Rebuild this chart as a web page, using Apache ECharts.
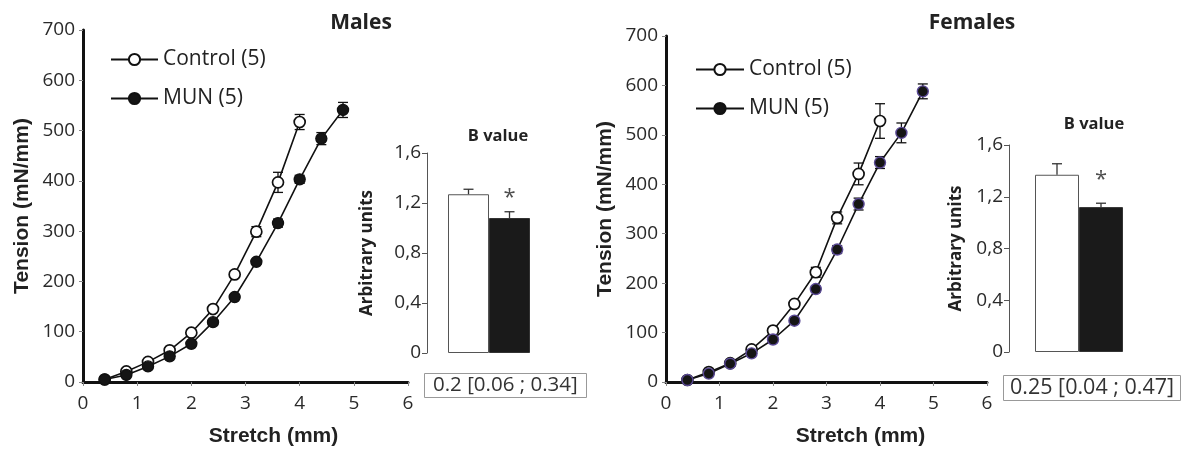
<!DOCTYPE html>
<html>
<head>
<meta charset="utf-8">
<script src="https://cdn.jsdelivr.net/npm/echarts@6/dist/echarts.min.js"></script>
<style>
html, body { margin: 0; padding: 0; background: #fff; }
#main { width: 1183px; height: 452px; }
</style>
</head>
<body>
<div id="main"></div>
<script>
// stretch (mm) for each measured point
var stretchControl = [0.4, 0.8, 1.2, 1.6, 2.0, 2.4, 2.8, 3.2, 3.6, 4.0];
var stretchMun = [0.4, 0.8, 1.2, 1.6, 2.0, 2.4, 2.8, 3.2, 3.6, 4.0, 4.4, 4.8];

// males, tension (mN/mm) and sem
var maleControl = [5, 21, 40, 63, 98, 145, 214, 299, 397, 517];
var maleControlErr = [2, 3, 3, 4, 5, 5, 6, 10, 20, 15];
var maleMun = [5, 14, 31, 51, 76, 119, 169, 239, 316, 403, 484, 541];
var maleMunErr = [2, 2, 3, 3, 4, 4, 5, 5, 8, 8, 12, 15];

// females
var femaleControl = [4, 20, 38, 66, 104, 158, 222, 332, 421, 528];
var femaleControlErr = [2, 3, 3, 4, 5, 6, 10, 12, 22, 35];
var femaleMun = [4, 17, 37, 58, 86, 124, 188, 268, 360, 444, 504, 588];
var femaleMunErr = [2, 2, 3, 3, 4, 4, 6, 8, 12, 12, 20, 15];

// B value bars
var groups = ['Control (5)', 'MUN (5)'];
var maleB = [1.27, 1.08];
var maleBErr = [0.04, 0.05];
var femaleB = [1.37, 1.12];
var femaleBErr = [0.085, 0.03];
var maleStar = [[1, 1.24]];
var femaleStar = [[1, 1.33]];
var bTickLabels = ['0', '0,4', '0,8', '1,2', '1,6'];
var maleCI = '0.2 [0.06 ; 0.34]';
var femaleCI = '0.25 [0.04 ; 0.47]';

var tickFont = 'Open Sans';
var dark = '#111';

function pairs(xs, ys) {
    var out = [];
    for (var i = 0; i < ys.length; i++) out.push([xs[i], ys[i]]);
    return out;
}
function errs(xs, ys, es) {
    var out = [];
    for (var i = 0; i < ys.length; i++) out.push([xs[i], ys[i] - es[i], ys[i] + es[i]]);
    return out;
}
function barErrs(ys, es) {
    var out = [];
    for (var i = 0; i < ys.length; i++) out.push([i, ys[i], ys[i] + es[i]]);
    return out;
}

function errorBarItem(params, api) {
    var x = api.value(0);
    var lo = api.coord([x, api.value(1)]);
    var hi = api.coord([x, api.value(2)]);
    var st = { stroke: dark, lineWidth: 1.3 };
    return {
        type: 'group',
        children: [
            { type: 'line', shape: { x1: hi[0], y1: hi[1], x2: lo[0], y2: lo[1] }, style: st },
            { type: 'line', shape: { x1: hi[0] - 5, y1: hi[1], x2: hi[0] + 5, y2: hi[1] }, style: st },
            { type: 'line', shape: { x1: lo[0] - 5, y1: lo[1], x2: lo[0] + 5, y2: lo[1] }, style: st }
        ]
    };
}
function barErrorItem(params, api) {
    var x = api.value(0);
    var lo = api.coord([x, api.value(1)]);
    var hi = api.coord([x, api.value(2)]);
    var st = { stroke: '#333', lineWidth: 1.3 };
    return {
        type: 'group',
        children: [
            { type: 'line', shape: { x1: hi[0], y1: hi[1], x2: lo[0], y2: lo[1] }, style: st },
            { type: 'line', shape: { x1: hi[0] - 5, y1: hi[1], x2: hi[0] + 5, y2: hi[1] }, style: st }
        ]
    };
}

function lineXAxis(idx, pad) {
    return {
        gridIndex: idx, type: 'value', min: 0, max: 6, interval: 1,
        name: 'Stretch (mm)', nameLocation: 'middle', nameGap: 44,
        nameTextStyle: { fontFamily: 'Liberation Sans', fontWeight: 'bold', fontSize: 21, color: '#222', padding: [0, 0, 0, pad] },
        axisLine: { lineStyle: { color: dark, width: 3 } },
        axisTick: { show: true, length: 4, lineStyle: { color: '#888', width: 1 } },
        axisLabel: { fontFamily: tickFont, fontSize: 19, color: '#2a2a2a', margin: 12 },
        splitLine: { show: false }
    };
}
function lineYAxis(idx) {
    return {
        gridIndex: idx, type: 'value', min: 0, max: 700, interval: 100,
        name: 'Tension (mN/mm)', nameLocation: 'middle', nameGap: 50,
        nameTextStyle: { fontFamily: 'Liberation Sans', fontWeight: 'bold', fontSize: 21, color: '#222' },
        axisLine: { show: true, lineStyle: { color: dark, width: 3 } },
        axisTick: { show: true, length: 4, lineStyle: { color: '#888', width: 1 } },
        axisLabel: { fontFamily: tickFont, fontSize: 19, color: '#2a2a2a', margin: 8 },
        splitLine: { show: false }
    };
}
function barYAxis(idx, off, gap) {
    return {
        gridIndex: idx, type: 'value', min: 0, max: 1.6, interval: 0.4, offset: off,
        name: 'Arbitrary units', nameLocation: 'middle', nameGap: gap,
        nameTextStyle: { fontFamily: tickFont, fontWeight: 'bold', fontSize: 17, color: '#222' },
        axisLine: { show: true, lineStyle: { color: '#555', width: 1 } },
        axisTick: { show: true, length: 5, lineStyle: { color: '#555', width: 1 } },
        axisLabel: {
            fontFamily: tickFont, fontSize: 19, color: '#2a2a2a', margin: 6,
            formatter: function (v) { return bTickLabels[Math.round(v / 0.4)]; }
        },
        splitLine: { show: false }
    };
}
function barXAxis(idx) {
    return { gridIndex: idx, type: 'category', data: groups, show: false };
}

function controlLine(name, xi, data) {
    return {
        name: name, type: 'line', xAxisIndex: xi, yAxisIndex: xi, data: data, z: 3,
        symbol: 'circle', symbolSize: 11,
        lineStyle: { color: dark, width: 1.6 },
        itemStyle: { color: '#fff', borderColor: dark, borderWidth: 1.7 }
    };
}
function munLine(name, xi, data, border) {
    return {
        name: name, type: 'line', xAxisIndex: xi, yAxisIndex: xi, data: data, z: 3,
        symbol: 'circle', symbolSize: 11,
        lineStyle: { color: dark, width: 1.6 },
        itemStyle: { color: '#151515', borderColor: border, borderWidth: 1.4 }
    };
}
function errSeries(xi, data) {
    return { type: 'custom', xAxisIndex: xi, yAxisIndex: xi, data: data, renderItem: errorBarItem, z: 2, silent: true };
}
function bValueSeries(xi, values, width) {
    return {
        type: 'bar', xAxisIndex: xi, yAxisIndex: xi, barWidth: width,
        data: [
            { value: values[0], itemStyle: { color: '#fff', borderColor: '#555', borderWidth: 1 } },
            { value: values[1], itemStyle: { color: '#1a1a1a', borderColor: '#333', borderWidth: 1 } }
        ]
    };
}
function starSeries(xi, data) {
    return {
        type: 'scatter', xAxisIndex: xi, yAxisIndex: xi, data: data, z: 5,
        symbol: 'circle', symbolSize: 2, itemStyle: { color: 'rgba(0,0,0,0)' },
        label: { show: true, position: 'inside', formatter: '*', fontFamily: tickFont, fontSize: 22, color: '#222' }
    };
}

var boxStyle = { fontFamily: tickFont, fontSize: 20.5, color: '#333', fontWeight: 'normal' };
var headStyle = { fontFamily: tickFont, fontSize: 21, color: '#222', fontWeight: 'bold' };
var bStyle = { fontFamily: tickFont, fontSize: 16.5, color: '#222', fontWeight: 'bold' };
var legendText = { fontFamily: tickFont, fontSize: 21, color: '#222' };

var option = {
    animation: false,
    title: [
        { text: 'Males', left: 356, top: 8, textAlign: 'center', textStyle: headStyle },
        { text: 'Females', left: 967, top: 8, textAlign: 'center', textStyle: headStyle },
        { text: 'B value', left: 493, top: 123, textAlign: 'center', textStyle: bStyle },
        { text: 'B value', left: 1089, top: 111, textAlign: 'center', textStyle: bStyle },
        { text: maleCI, left: 424, top: 373, padding: [2, 9], borderColor: '#999', borderWidth: 1, textStyle: boxStyle },
        { text: femaleCI, left: 1003, top: 375, padding: [2, 7], borderColor: '#999', borderWidth: 1,
          textStyle: { fontFamily: tickFont, fontSize: 21.5, color: '#333', fontWeight: 'normal' } }
    ],
    legend: [
        {
            left: 110, top: 49, padding: 0, orient: 'vertical', itemWidth: 47, itemHeight: 14, itemGap: 18,
            data: groups, textStyle: legendText
        },
        {
            left: 695, top: 59, padding: 0, orient: 'vertical', itemWidth: 48, itemHeight: 14, itemGap: 18,
            data: groups, textStyle: legendText
        }
    ],
    grid: [
        { left: 83, top: 30, width: 325, height: 354 },
        { left: 448, top: 153, width: 82, height: 200 },
        { left: 666, top: 36, width: 321, height: 353 },
        { left: 1035, top: 145, width: 88, height: 207 }
    ],
    xAxis: [lineXAxis(0, 56), barXAxis(1), lineXAxis(2, 68), barXAxis(3)],
    yAxis: [lineYAxis(0), barYAxis(1, 21, 51), lineYAxis(2), barYAxis(3, 26, 44)],
    series: [
        errSeries(0, errs(stretchControl, maleControl, maleControlErr)),
        errSeries(0, errs(stretchMun, maleMun, maleMunErr)),
        controlLine('Control (5)', 0, pairs(stretchControl, maleControl)),
        munLine('MUN (5)', 0, pairs(stretchMun, maleMun), dark),

        bValueSeries(1, maleB, 41),
        { type: 'custom', xAxisIndex: 1, yAxisIndex: 1, data: barErrs(maleB, maleBErr), renderItem: barErrorItem, z: 3 },
        starSeries(1, maleStar),

        errSeries(2, errs(stretchControl, femaleControl, femaleControlErr)),
        errSeries(2, errs(stretchMun, femaleMun, femaleMunErr)),
        controlLine('Control (5)', 2, pairs(stretchControl, femaleControl)),
        munLine('MUN (5)', 2, pairs(stretchMun, femaleMun), '#5b4a96'),

        bValueSeries(3, femaleB, 44),
        { type: 'custom', xAxisIndex: 3, yAxisIndex: 3, data: barErrs(femaleB, femaleBErr), renderItem: barErrorItem, z: 3 },
        starSeries(3, femaleStar)
    ]
};

var chart = echarts.init(document.getElementById('main'));
chart.setOption(option);
window.addEventListener('resize', function () {
    chart.resize();
});
</script>
</body>
</html>
